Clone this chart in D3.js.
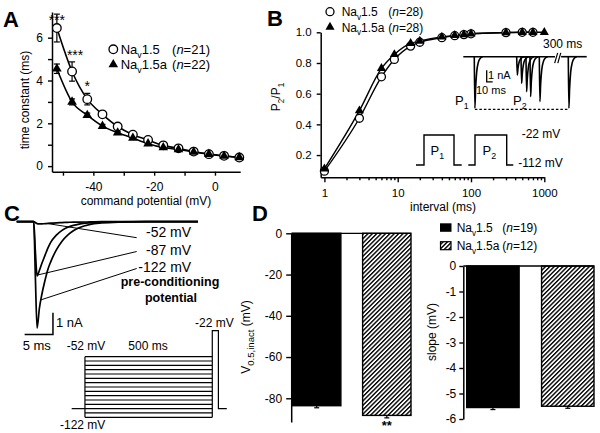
<!DOCTYPE html>
<html><head><meta charset="utf-8">
<script src="https://cdn.jsdelivr.net/npm/d3@7"></script>
<style>
body{margin:0;background:#fff}
svg{display:block}
text{font-family:"Liberation Sans",Arial,Helvetica,sans-serif;fill:#000}
</style>
</head><body>
<svg id="c" width="600" height="433"></svg>
<script>
// ---------------- DATA ----------------
// Panel A: inactivation time constant vs command potential
const aVoltage = [-52,-47,-42,-37,-32,-27,-22,-17,-12,-7,-2,3,8];
const aNav15 = [6.45,4.42,3.13,2.42,1.85,1.47,1.22,0.97,0.83,0.68,0.56,0.48,0.40];
const aNav15Err = [0.65,0.45,0.27,0.12,0.1,0.08,0.06,0.05,0.04,0.03,0.03,0.03,0.03];
const aNav15a = [4.55,3.0,2.38,1.87,1.56,1.31,1.05,0.87,0.78,0.66,0.56,0.47,0.41];
const aNav15aErr = [0.22,0.14,0.1,0.08,0.06,0.05,0.05,0.04,0.03,0.03,0.03,0.03,0.03];
const aXTicks = [-50,-40,-30,-20,-10,0];
const aXTickLabels = [-40,-20,0];
const aYTicks = [0,1,2,3,4,5,6];
const aYTickLabels = [0,2,4,6];
const aSigVoltage = [-52,-47,-42];
const aSigLevel = [6.92,5.33,3.88];
const aSigText = ["***","***","*"];

// Panel B: recovery from inactivation
const bInterval = [1,3,6,9,15,20,40,60,80,100,300,500,700,1000];
const bNav15 = [0.095,0.44,0.71,0.823,0.91,0.935,0.965,0.978,0.985,0.99,0.998,1.0,1.0,null];
const bNav15a = [0.11,0.489,0.765,0.856,0.928,0.943,0.97,0.98,0.985,0.99,0.998,1.0,1.0,1.0];
const bXTicks = [1,2,3,4,5,6,7,8,9,10,20,30,40,50,60,70,80,90,100,200,300,400,500,600,700,800,900,1000];
const bXTickLabels = [1,10,100,1000];
const bYTicks = [0.2,0.4,0.6,0.8,1.0];
// inset current traces (ms, nA)
const bInsetP1Time = 18.3;
const bInsetP2Time = [89,96.2,104.5,111.2,126.7];
const bInsetP2Amp = [-1.56,-2.27,-2.99,-3.41,-3.83];
const bInsetFinalTime = 175;
const bInsetPeak = -4.4;
const bSpikeShapeT = [0,1.0,2.2,4,6.5,10,14];
const bSpikeShapeF = [0,1,0.62,0.3,0.12,0.03,0];
// inset pulse protocol (relative time units)
const bProtoP1 = [0,8,38,45.7];
const bProtoP2 = [52.3,59,90.7,97.3];
const bProtoHold = -112, bProtoTest = -22;

// Panel C: current traces after pre-conditioning potentials
const cTime = [-3,0,0.3,0.6,1.0,1.4,2,2.5,3,4,5,6,7,8,10,12,15,20,29];
const cI122 = [0,0,-2.6,-4.9,-4.0,-3.4,-2.7,-2.2,-1.85,-1.3,-0.9,-0.62,-0.42,-0.28,-0.12,-0.06,-0.02,0,0];
const cI87 = [0,0,-1.4,-2.5,-2.25,-1.95,-1.55,-1.22,-0.95,-0.62,-0.4,-0.26,-0.17,-0.11,-0.05,-0.02,-0.01,0,0];
const cI52 = [0,0,-0.04,-0.09,-0.1,-0.1,-0.09,-0.08,-0.07,-0.05,-0.04,-0.03,-0.02,-0.02,-0.01,0,0,0,0];
const cPointerT = [2.3,0.8,1.3];
const cPointerI = [-0.08,-2.45,-3.6];
const cPointerLabels = ["-52 mV","-87 mV","-122 mV"];
// voltage protocol
const cPreV = [-52,-57,-62,-67,-72,-77,-82,-87,-92,-97,-102,-107,-112,-117,-122];
const cHoldV = -112, cTestV = -22;
const cProtoTimes = [-52,0,500,524,557];

// Panel D: bar charts
const dGroups = ["Nav1.5","Nav1.5a"];
const dV05 = [-83.6,-88.3];
const dV05Err = [1.0,1.2];
const dSlope = [-5.55,-5.5];
const dSlopeErr = [0.08,0.08];
const dV05Ticks = [0,-20,-40,-60,-80];
const dSlopeTicks = [0,-1,-2,-3,-4,-5,-6];

// ---------------- HELPERS ----------------
const svg = d3.select("#c");
svg.append("rect").attr("width",600).attr("height",433).attr("fill","#fff");
const defs = svg.append("defs");
const pat = defs.append("pattern").attr("id","hatch").attr("patternUnits","userSpaceOnUse")
  .attr("width",3.1).attr("height",3.1).attr("patternTransform","rotate(45)");
pat.append("rect").attr("width",3.1).attr("height",3.1).attr("fill","#fff");
pat.append("line").attr("x1",0.7).attr("x2",0.7).attr("y1",0).attr("y2",3.1).attr("stroke","#000").attr("stroke-width",1.4);

function rich(parent, x, y, parts, size, opts={}) {
  const t = parent.append("text").attr("x",x).attr("y",y).attr("font-size",size);
  if (opts.anchor) t.attr("text-anchor",opts.anchor);
  if (opts.transform) t.attr("transform",opts.transform);
  if (opts.bold) t.attr("font-weight","bold");
  let shift = 0;
  parts.forEach(p => {
    const ts = t.append("tspan").text(p.t);
    const target = p.sub ? size*0.32 : 0;
    if (target !== shift) { ts.attr("dy", target - shift); shift = target; }
    if (p.sub) ts.attr("font-size", size*(opts.subScale||0.68));
    if (p.it) ts.attr("font-style","italic");
  });
  return t;
}
const navParts = (a) => [{t:"Na"},{t:"v",sub:true},{t:"1.5"+(a?"a":"")}];
const nParts = (n) => [{t:"("},{t:"n",it:true},{t:"="+n+")"}];
function styleAxis(g, fs) {
  g.attr("font-size",fs).attr("font-family",null);
  g.select(".domain").attr("stroke","#000").attr("stroke-width",1.5);
  g.selectAll(".tick line").attr("stroke","#000").attr("stroke-width",1.4);
}
const tri = d3.symbol().type(d3.symbolTriangle).size(40);
const triSmall = d3.symbol().type(d3.symbolTriangle).size(36);

// ---------------- PANEL A ----------------
const xA = d3.scaleLinear().domain([-53.6, 8.3]).range([52, 240.2]);
const yA = d3.scaleLinear().domain([-0.26, 7.2]).range([171.7, 12]);
const gA = svg.append("g");
const axAx = gA.append("g").attr("transform",`translate(0,${yA(-0.26)})`)
  .call(d3.axisBottom(xA).tickValues(aXTicks).tickSize(4).tickSizeOuter(0)
    .tickFormat(d => aXTickLabels.includes(d) ? String(d) : ""));
styleAxis(axAx,12); axAx.selectAll("text").attr("dy",null).attr("y",19.8);
const axAy = gA.append("g").attr("transform",`translate(${xA(-53.6)},0)`)
  .call(d3.axisLeft(yA).tickValues(aYTicks).tickSize(4).tickSizeOuter(0).tickPadding(5)
    .tickFormat(d => aYTickLabels.includes(d) ? String(d) : ""));
styleAxis(axAy,12);
const lineA = (vals) => d3.line().x((d,i)=>xA(aVoltage[i])).y(d=>yA(d)).curve(d3.curveMonotoneX)(vals);
gA.append("path").attr("d",lineA(aNav15)).attr("fill","none").attr("stroke","#000").attr("stroke-width",1.6);
gA.append("path").attr("d",lineA(aNav15a)).attr("fill","none").attr("stroke","#000").attr("stroke-width",1.6);
function errBars(g, xs, ys, es, xs_, ys_) {
  xs.forEach((x,i) => {
    const cx = xs_(x), y1 = ys_(ys[i]+es[i]), y0 = ys_(ys[i]-es[i]);
    g.append("line").attr("x1",cx).attr("x2",cx).attr("y1",y1).attr("y2",y0).attr("stroke","#000").attr("stroke-width",1.2);
    g.append("line").attr("x1",cx-3).attr("x2",cx+3).attr("y1",y1).attr("y2",y1).attr("stroke","#000").attr("stroke-width",1.2);
    g.append("line").attr("x1",cx-3).attr("x2",cx+3).attr("y1",y0).attr("y2",y0).attr("stroke","#000").attr("stroke-width",1.2);
  });
}
errBars(gA, aVoltage, aNav15, aNav15Err, xA, yA);
errBars(gA, aVoltage, aNav15a, aNav15aErr, xA, yA);
aVoltage.forEach((v,i) => {
  gA.append("circle").attr("cx",xA(v)).attr("cy",yA(aNav15[i])).attr("r",4.3)
    .attr("fill","#fff").attr("stroke","#000").attr("stroke-width",1.3);
});
aVoltage.forEach((v,i) => {
  gA.append("path").attr("d",tri()).attr("transform",`translate(${xA(v)},${yA(aNav15a[i])})`).attr("fill","#000");
});
aSigVoltage.forEach((v,i) => {
  gA.append("text").attr("x",xA(v)+(i===1?3:0)).attr("y",yA(aSigLevel[i])+7.5).attr("text-anchor","middle")
    .attr("font-size",14).text(aSigText[i]);
});
// legend A
gA.append("circle").attr("cx",113.3).attr("cy",49.3).attr("r",4.3).attr("fill","#fff").attr("stroke","#000").attr("stroke-width",1.3);
gA.append("path").attr("d",tri()).attr("transform","translate(113.3,64.5)").attr("fill","#000");
rich(gA,120.7,53.8,navParts(false),13);
rich(gA,210,53.8,nParts(21),13,{anchor:"end"});
rich(gA,120.7,68.8,navParts(true),13);
rich(gA,210,68.8,nParts(22),13,{anchor:"end"});
gA.append("text").attr("transform","translate(29,100) rotate(-90)").attr("text-anchor","middle").attr("font-size",12).text("time constant (ms)");
gA.append("text").attr("x",146).attr("y",205).attr("text-anchor","middle").attr("font-size",12).text("command potential (mV)");
svg.append("text").attr("x",3).attr("y",27).attr("font-size",22).attr("font-weight","bold").text("A");

// ---------------- PANEL B ----------------
const xB = d3.scaleLog().domain([0.89, 1000]).range([320.7, 544.3]);
const yB = d3.scaleLinear().domain([0.055, 1.0]).range([177.3, 32.3]);
const gB = svg.append("g");
const axBx = gB.append("g").attr("transform",`translate(0,${yB(0.055)})`)
  .call(d3.axisBottom(xB).tickValues(bXTicks).tickSize(3).tickSizeOuter(0)
    .tickFormat(d => bXTickLabels.includes(d) ? String(d) : ""));
styleAxis(axBx,11.5);
axBx.selectAll(".tick").filter(d => bXTickLabels.includes(d)).select("line").attr("y2",5);
axBx.selectAll("text").attr("dy",null).attr("y",19.5);
const axBy = gB.append("g").attr("transform",`translate(${xB(0.89)},0)`)
  .call(d3.axisLeft(yB).tickValues(bYTicks).tickSize(4).tickSizeOuter(0).tickPadding(5).tickFormat(d3.format(".1f")));
styleAxis(axBy,11.5);
const lineB = (vals) => d3.line().defined(d=>d[1]!=null).x(d=>xB(d[0])).y(d=>yB(d[1])).curve(d3.curveMonotoneX)(vals);
const bPts15 = bInterval.map((x,i)=>[x,bNav15[i]]).filter(d=>d[1]!=null);
const bPts15a = bInterval.map((x,i)=>[x,bNav15a[i]]);
gB.append("path").attr("d",lineB(bPts15)).attr("fill","none").attr("stroke","#000").attr("stroke-width",1.4);
gB.append("path").attr("d",lineB(bPts15a)).attr("fill","none").attr("stroke","#000").attr("stroke-width",1.4);
bPts15.forEach(d => gB.append("circle").attr("cx",xB(d[0])).attr("cy",yB(d[1])).attr("r",4)
  .attr("fill","#fff").attr("stroke","#000").attr("stroke-width",1.3));
bPts15a.forEach(d => gB.append("path").attr("d",triSmall()).attr("transform",`translate(${xB(d[0])},${yB(d[1])})`).attr("fill","#000"));
// legend B
gB.append("circle").attr("cx",330).attr("cy",11.7).attr("r",4).attr("fill","#fff").attr("stroke","#000").attr("stroke-width",1.3);
gB.append("path").attr("d",triSmall()).attr("transform","translate(330,27)").attr("fill","#000");
rich(gB,341.7,16,navParts(false),12);
rich(gB,423.3,16,nParts(28),12,{anchor:"end"});
rich(gB,341.7,31.5,navParts(true),12);
rich(gB,423.3,31.5,nParts(28),12,{anchor:"end"});
rich(gB,0,0,[{t:"P"},{t:"2",sub:true},{t:"/P"},{t:"1",sub:true}],12,{anchor:"middle",transform:"translate(280,97) rotate(-90)"});
gB.append("text").attr("x",443).attr("y",211).attr("text-anchor","middle").attr("font-size",12).text("interval (ms)");
svg.append("text").attr("x",267).attr("y",25.5).attr("font-size",22).attr("font-weight","bold").text("B");

// inset traces
const xI = d3.scaleLinear().domain([0, 205.7]).range([463.3, 586.7]);
const yI = d3.scaleLinear().domain([0, bInsetPeak]).range([56.7, 108.3]);
const gI = gB.append("g").attr("fill","none").attr("stroke","#000").attr("stroke-width",1.6);
const spike = (t0, amp) => d3.line().x(d=>xI(d[0])).y(d=>yI(d[1])).curve(d3.curveMonotoneX)(
  bSpikeShapeT.map((s,k)=>[t0+s, amp*bSpikeShapeF[k]]));
gI.append("path").attr("d", d3.line()([[xI(0),yI(0)],[xI(152.8),yI(0)]]));
gI.append("path").attr("d", d3.line()([[xI(163),yI(0)],[xI(205.7),yI(0)]]));
gI.append("path").attr("d", spike(bInsetP1Time, bInsetPeak));
bInsetP2Time.forEach((t,i)=> gI.append("path").attr("d", spike(t, bInsetP2Amp[i])));
gI.append("path").attr("d", spike(bInsetFinalTime, bInsetPeak));
// break marks
[152.3,157.5].forEach(t => gI.append("line").attr("x1",xI(t)).attr("y1",yI(-0.55)).attr("x2",xI(t)+3).attr("y2",yI(0.32)).attr("stroke-width",1.2));
gI.append("line").attr("x1",xI(bInsetP1Time+1)).attr("x2",xI(bInsetFinalTime+1)).attr("y1",yI(bInsetPeak)+1).attr("y2",yI(bInsetPeak)+1)
  .attr("stroke-width",1.2).attr("stroke-dasharray","2.5,2");
// scale bar 10 ms / 1 nA
gI.append("path").attr("d", d3.line()([[xI(39),yI(-1.15)],[xI(39),yI(-2.15)],[xI(49),yI(-2.15)]])).attr("stroke-width",1.3);
gB.append("text").attr("x",488).attr("y",78.5).attr("font-size",11).text("1 nA");
gB.append("text").attr("x",476).attr("y",93.5).attr("font-size",11).text("10 ms");
gB.append("text").attr("x",543).attr("y",48).attr("font-size",12).text("300 ms");
rich(gB,455,105,[{t:"P"},{t:"1",sub:true}],13);
rich(gB,513,105,[{t:"P"},{t:"2",sub:true}],13);
// inset protocol
const xPB = d3.scaleLinear().domain([0, 97.3]).range([416, 513.3]);
const yPB = d3.scaleLinear().domain([bProtoHold, bProtoTest]).range([165, 135]);
[bProtoP1, bProtoP2].forEach(p => {
  gB.append("path").attr("fill","none").attr("stroke","#000").attr("stroke-width",1.4)
    .attr("d", d3.line()([[xPB(p[0]),yPB(bProtoHold)],[xPB(p[1]),yPB(bProtoHold)],[xPB(p[1]),yPB(bProtoTest)],
      [xPB(p[2]),yPB(bProtoTest)],[xPB(p[2]),yPB(bProtoHold)],[xPB(p[3]),yPB(bProtoHold)]]));
});
rich(gB,430.5,155,[{t:"P"},{t:"1",sub:true}],13);
rich(gB,482.5,155,[{t:"P"},{t:"2",sub:true}],13);
gB.append("text").attr("x",521.7).attr("y",138).attr("font-size",12).text("-22 mV");
gB.append("text").attr("x",518.3).attr("y",167).attr("font-size",12).text("-112 mV");

// ---------------- PANEL C ----------------
const gC = svg.append("g");
svg.append("text").attr("x",4).attr("y",220.5).attr("font-size",22).attr("font-weight","bold").text("C");
const xC = d3.scaleLinear().domain([-3, 29]).range([16.7, 198]);
const yC = d3.scaleLinear().domain([0, -5]).range([221.7, 330.2]);
const lineC = (vals) => d3.line().x((d,i)=>xC(cTime[i])).y(d=>yC(d)).curve(d3.curveMonotoneX)(vals);
[cI52, cI87, cI122].forEach(v => gC.append("path").attr("d",lineC(v)).attr("fill","none").attr("stroke","#000").attr("stroke-width",1.7));
const cLabelX = [146,146,138.3], cLabelY = [236.7,254.5,271.5];
cPointerLabels.forEach((lab,i) => {
  gC.append("line").attr("x1",xC(cPointerT[i])).attr("y1",yC(cPointerI[i])).attr("x2",136.7).attr("y2",cLabelY[i]+1-(i===0?0:4))
    .attr("stroke","#000").attr("stroke-width",1);
  gC.append("text").attr("x",cLabelX[i]).attr("y",cLabelY[i]).attr("font-size",14).text(lab);
});
gC.append("text").attr("x",170).attr("y",286).attr("text-anchor","middle").attr("font-size",12.5).attr("font-weight","bold").text("pre-conditioning");
gC.append("text").attr("x",171).attr("y",301.5).attr("text-anchor","middle").attr("font-size",12.5).attr("font-weight","bold").text("potential");
// scale bar 5 ms / 1 nA
gC.append("path").attr("fill","none").attr("stroke","#000").attr("stroke-width",1.5)
  .attr("d", d3.line()([[xC(-1.6),yC(-5.2)],[xC(3.4),yC(-5.2)],[xC(3.4),yC(-4.2)]]));
gC.append("text").attr("x",56).attr("y",327).attr("font-size",13).text("1 nA");
gC.append("text").attr("x",22.7).attr("y",350).attr("font-size",13).text("5 ms");
// voltage protocol
const xP = d3.scaleLinear().domain([-52, 557]).range([71.7, 226.8]);
const yP = d3.scaleLinear().domain([-122, -22]).range([417.3, 330.7]);
const gP = gC.append("g").attr("stroke","#000").attr("stroke-width",1.2).attr("fill","none");
const [tA,t0,t1,t2,t3] = cProtoTimes;
gP.append("line").attr("x1",xP(tA)).attr("x2",xP(t0)).attr("y1",yP(cHoldV)).attr("y2",yP(cHoldV));
gP.append("line").attr("x1",xP(t0)).attr("x2",xP(t0)).attr("y1",yP(d3.max(cPreV))).attr("y2",yP(d3.min(cPreV)));
cPreV.forEach(v => gP.append("line").attr("x1",xP(t0)).attr("x2",xP(t1)).attr("y1",yP(v)).attr("y2",yP(v)));
gP.append("path").attr("d", d3.line()([[xP(t1),yP(d3.min(cPreV))],[xP(t1),yP(cTestV)],[xP(t2),yP(cTestV)],[xP(t2),yP(cHoldV)],[xP(t3),yP(cHoldV)]]));
gC.append("text").attr("x",66.7).attr("y",349.5).attr("font-size",12).text("-52 mV");
gC.append("text").attr("x",128.3).attr("y",349.5).attr("font-size",12).text("500 ms");
gC.append("text").attr("x",195).attr("y",326.5).attr("font-size",12).text("-22 mV");
gC.append("text").attr("x",60).attr("y",428.5).attr("font-size",12).text("-122 mV");

// ---------------- PANEL D ----------------
const gD = svg.append("g");
svg.append("text").attr("x",252).attr("y",220.5).attr("font-size",22).attr("font-weight","bold").text("D");
const yD1 = d3.scaleLinear().domain([-91.5, 0]).range([422, 233.3]);
const xD1 = d3.scaleBand().domain(dGroups).range([292.5, 411]).paddingInner(0.31).paddingOuter(0);
const yD2 = d3.scaleLinear().domain([-6, 0]).range([419, 266]);
const xD2 = d3.scaleBand().domain(dGroups).range([466.7, 594]).paddingInner(0.3).paddingOuter(0);
function barChart(xS, yS, vals, errs, ticks, axX, tickSize, pad) {
  const ax = gD.append("g").attr("transform",`translate(${axX},0)`)
    .call(d3.axisLeft(yS).tickValues(ticks).tickSize(tickSize).tickSizeOuter(0).tickPadding(pad).tickFormat(d=>String(d)));
  styleAxis(ax,12);
  dGroups.forEach((g,i) => {
    const x = xS(g), w = xS.bandwidth(), yb = yS(vals[i]);
    const cx = x + w/2, ye = yS(vals[i]-errs[i]);
    gD.append("line").attr("x1",cx).attr("x2",cx).attr("y1",yb).attr("y2",ye).attr("stroke","#000").attr("stroke-width",1.2);
    gD.append("line").attr("x1",cx-2.5).attr("x2",cx+2.5).attr("y1",ye).attr("y2",ye).attr("stroke","#000").attr("stroke-width",1.2);
    gD.append("rect").attr("x",x).attr("y",yS(0)).attr("width",w).attr("height",yb-yS(0))
      .attr("fill", i===0 ? "#000" : "url(#hatch)").attr("stroke","#000").attr("stroke-width",1.4);
  });
  gD.append("line").attr("x1",axX).attr("x2",xS(dGroups[1])+xS.bandwidth()).attr("y1",yS(0)).attr("y2",yS(0))
    .attr("stroke","#000").attr("stroke-width",1.3);
}
barChart(xD1, yD1, dV05, dV05Err, dV05Ticks, 291.2, 5, 4);
barChart(xD2, yD2, dSlope, dSlopeErr, dSlopeTicks, 463.3, 4, 3);
gD.append("text").attr("x",xD1(dGroups[1])+xD1.bandwidth()/2).attr("y",430).attr("text-anchor","middle")
  .attr("font-size",13).attr("font-weight","bold").text("**");
rich(gD,0,0,[{t:"V"},{t:"0.5,inact",sub:true},{t:" (mV)"}],12,{anchor:"middle",transform:"translate(250,337) rotate(-90)",subScale:0.8});
gD.append("text").attr("transform","translate(436,332) rotate(-90)").attr("text-anchor","middle").attr("font-size",12).text("slope (mV)");
// legend D
gD.append("rect").attr("x",440).attr("y",223.3).attr("width",11.5).attr("height",8.5).attr("fill","#000");
gD.append("rect").attr("x",440.5).attr("y",241.7).attr("width",10.5).attr("height",8).attr("fill","url(#hatch)").attr("stroke","#000").attr("stroke-width",1.2);
rich(gD,456.7,232,navParts(false),12);
rich(gD,537.3,232,nParts(19),12,{anchor:"end"});
rich(gD,456.7,250,navParts(true),12);
rich(gD,537.3,250,nParts(12),12,{anchor:"end"});
</script>
</body></html>
